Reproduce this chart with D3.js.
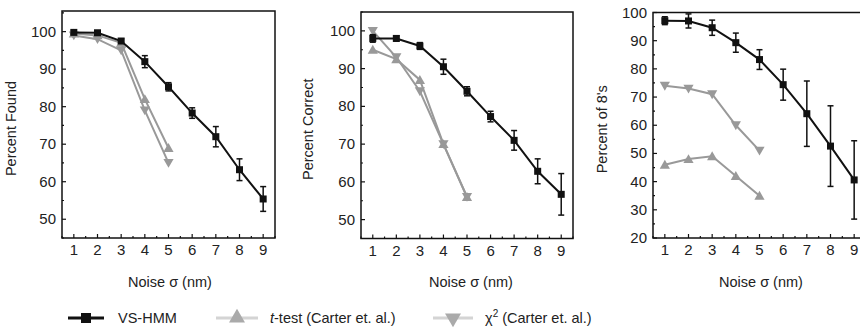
<!DOCTYPE html>
<html><head><meta charset="utf-8">
<script src="https://cdn.jsdelivr.net/npm/d3@7"></script>
<style>body{margin:0;background:#fff}svg{display:block;font-family:"Liberation Sans",Arial,sans-serif}</style>
</head><body><svg id="c" width="860" height="329"></svg>
<script>
const noise = [1,2,3,4,5,6,7,8,9];
const noiseShort = [1,2,3,4,5];
// Panel 1: Percent Found
const foundHMM = [99.8,99.7,97.5,92,85.3,78.3,72,63.2,55.4];
const foundHMMErr = [0.5,0.4,0.6,1.6,1.1,1.4,2.7,2.9,3.3];
const foundT = [99.5,99,97,82,69];
const foundChi = [99,98,95,79,65];
// Panel 2: Percent Correct
const corrHMM = [98,98,96,90.5,84,77.3,71,62.8,56.7];
const corrHMMErr = [1,0.7,0.9,2,1.2,1.4,2.6,3.3,5.5];
const corrT = [95,92.5,87,70,56];
const corrChi = [100,93,84,70,56];
// Panel 3: Percent of 8's
const eightHMM = [97.1,97,94.6,89.3,83.3,74.4,64.1,52.6,40.6];
const eightHMMErr = [1.4,2.5,2.7,3.4,3.5,5.5,11.6,14.3,13.9];
const eightT = [46,48,49,42,35];
const eightChi = [74,73,71,60,51];

const yTitles = ["Percent Found","Percent Correct","Percent of 8's"];
const xTitle = "Noise σ (nm)";
const legendNames = ["VS-HMM","t-test (Carter et. al.)","χ2 (Carter et. al.)"];

const svg = d3.select("#c");
const GREY = "#999";

const panels = [
  {x0:62,x1:275,y0:11,y1:238,yd:[45,105.5],yt:d3.range(50,101,10),ym:d3.range(45,106,5),hmm:foundHMM,err:foundHMMErr,t:foundT,chi:foundChi,title:yTitles[0],tx:16,xc:170,right:true},
  {x0:361,x1:573,y0:12,y1:238.5,yd:[45,105],yt:d3.range(50,101,10),ym:d3.range(45,106,5),hmm:corrHMM,err:corrHMMErr,t:corrT,chi:corrChi,title:yTitles[1],tx:313,xc:471,right:true},
  {x0:653,x1:866,y0:12.5,y1:238,yd:[20,100],yt:d3.range(20,101,10),ym:d3.range(20,101,5),hmm:eightHMM,err:eightHMMErr,t:eightT,chi:eightChi,title:yTitles[2],tx:607,xc:761,right:true}
];

panels.forEach(p => {
  const x = d3.scaleLinear().domain([0.5,9.5]).range([p.x0,p.x1]);
  const y = d3.scaleLinear().domain(p.yd).range([p.y1,p.y0]);
  const g = svg.append("g");
  // frame
  g.append("rect").attr("x",p.x0).attr("y",p.y0).attr("width",p.x1-p.x0).attr("height",p.y1-p.y0)
    .attr("fill","none").attr("stroke","#111").attr("stroke-width",1.5);
  // x ticks (inward)
  const xm = d3.range(0.5,9.51,0.5);
  xm.forEach(v => {
    const major = Number.isInteger(v);
    g.append("line").attr("x1",x(v)).attr("x2",x(v)).attr("y1",p.y1).attr("y2",p.y1-(major?4:2))
      .attr("stroke","#111").attr("stroke-width",1.2);
  });
  p.ym.forEach(v => {
    const major = p.yt.includes(v);
    g.append("line").attr("y1",y(v)).attr("y2",y(v)).attr("x1",p.x0).attr("x2",p.x0+(major?4:2))
      .attr("stroke","#111").attr("stroke-width",1.2);
  });
  noise.forEach(v => {
    g.append("text").attr("x",x(v)).attr("y",p.y1+17).attr("text-anchor","middle")
      .attr("font-size",15).attr("fill","#222").text(v);
  });
  p.yt.forEach(v => {
    g.append("text").attr("x",p.x0-6).attr("y",y(v)+5).attr("text-anchor","end")
      .attr("font-size",15).attr("fill","#222").text(v);
  });
  g.append("text").attr("transform",`translate(${p.tx},${(p.y0+p.y1)/2+4}) rotate(-90)`)
    .attr("text-anchor","middle").attr("font-size",14.5).attr("fill","#222").text(p.title);
  g.append("text").attr("x",p.xc).attr("y",287).attr("text-anchor","middle")
    .attr("font-size",14.5).attr("fill","#222").text(xTitle);

  const line = d3.line().x((d,i)=>x(noise[i])).y(d=>y(d));
  // grey series
  [[p.chi,d3.symbolTriangle,180],[p.t,d3.symbolTriangle,0]].forEach(([vals,sym,rot]) => {
    g.append("path").attr("d",line(vals)).attr("fill","none").attr("stroke",GREY).attr("stroke-width",2);
    vals.forEach((v,i) => {
      g.append("path").attr("d",d3.symbol(sym,45)())
        .attr("transform",`translate(${x(noiseShort[i])},${y(v)+(rot?-1:1)}) rotate(${rot})`)
        .attr("fill",GREY);
    });
  });
  // HMM
  g.append("path").attr("d",line(p.hmm)).attr("fill","none").attr("stroke","#111").attr("stroke-width",2);
  p.hmm.forEach((v,i) => {
    const e = p.err[i], cx = x(noise[i]);
    g.append("line").attr("x1",cx).attr("x2",cx).attr("y1",y(v-e)).attr("y2",y(v+e)).attr("stroke","#111").attr("stroke-width",1.5);
    [v-e,v+e].forEach(w => g.append("line").attr("x1",cx-3).attr("x2",cx+3).attr("y1",y(w)).attr("y2",y(w)).attr("stroke","#111").attr("stroke-width",1.5));
    g.append("rect").attr("x",cx-3.5).attr("y",y(v)-3.5).attr("width",7).attr("height",7).attr("fill","#111");
  });
});

// legend
const ly = 318;
const lg = svg.append("g");
lg.append("line").attr("x1",68).attr("x2",104).attr("y1",ly).attr("y2",ly).attr("stroke","#111").attr("stroke-width",3);
lg.append("rect").attr("x",81).attr("y",ly-5).attr("width",10).attr("height",10).attr("fill","#111");
lg.append("text").attr("x",118).attr("y",ly+5).attr("font-size",14.5).attr("fill","#222").text(legendNames[0]);

lg.append("line").attr("x1",216).attr("x2",258).attr("y1",ly).attr("y2",ly).attr("stroke","#d4d4d4").attr("stroke-width",3);
lg.append("path").attr("d",d3.symbol(d3.symbolTriangle,110)()).attr("transform",`translate(237,${ly})`).attr("fill","#aaa");
const t2 = lg.append("text").attr("x",270).attr("y",ly+5).attr("font-size",14.5).attr("fill","#222");
t2.append("tspan").attr("font-style","italic").text("t");
t2.append("tspan").text("-test (Carter et. al.)");

lg.append("line").attr("x1",433).attr("x2",473).attr("y1",ly).attr("y2",ly).attr("stroke","#d4d4d4").attr("stroke-width",3);
lg.append("path").attr("d",d3.symbol(d3.symbolTriangle,110)()).attr("transform",`translate(453,${ly}) rotate(180)`).attr("fill","#aaa");
const t3 = lg.append("text").attr("x",485).attr("y",ly+5).attr("font-size",14.5).attr("fill","#222");
t3.append("tspan").text("χ");
t3.append("tspan").attr("font-size",10).attr("dy",-6).text("2");
t3.append("tspan").attr("dy",6).text(" (Carter et. al.)");
</script></body></html>
